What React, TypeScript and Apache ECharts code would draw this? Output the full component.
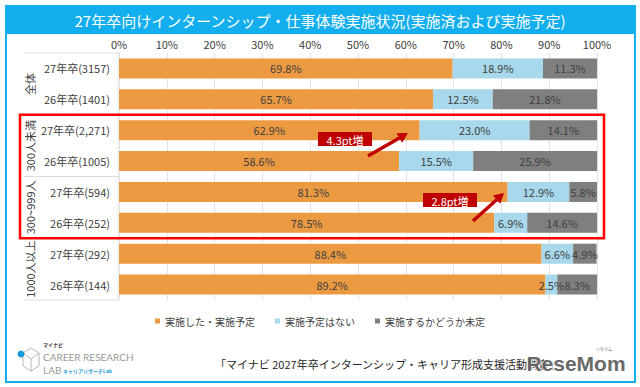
import React, { useEffect, useRef } from "react";
import * as echarts from "echarts";

const categories = [
  "27年卒(3157)",
  "26年卒(1401)",
  "27年卒(2,271)",
  "26年卒(1005)",
  "27年卒(594)",
  "26年卒(252)",
  "27年卒(292)",
  "26年卒(144)",
];
const groups = ["全体", "300人未満", "300~999人", "1000人以上"];
const seriesNames = ["実施した・実施予定", "実施予定はない", "実施するかどうか未定"];
const implemented = [69.8, 65.7, 62.9, 58.6, 81.3, 78.5, 88.4, 89.2];
const notPlanned = [18.9, 12.5, 23.0, 15.5, 12.9, 6.9, 6.6, 2.5];
const undecided = [11.3, 21.8, 14.1, 25.9, 5.8, 14.6, 4.9, 8.3];
const annotations = ["4.3pt増", "2.8pt増"];
const titleText = "27年卒向けインターンシップ・仕事体験実施状況(実施済および実施予定)";
const sourceText = "「マイナビ 2027年卒インターンシップ・キャリア形成支援活動調査」";

const FONT = '"Noto Sans CJK JP", "Noto Sans", sans-serif';
const colors = ["#EC9A42", "#A8D8EB", "#7F7F7F"];
const RED = "#C00000";

function arrow(x1: number, y1: number, x2: number, y2: number) {
  const dx = x2 - x1, dy = y2 - y1;
  const len = Math.sqrt(dx * dx + dy * dy);
  const ux = dx / len, uy = dy / len;
  const nx = -uy, ny = ux;
  const hl = 10, hw = 5.5;
  const bx = x2 - ux * hl, by = y2 - uy * hl;
  return [
    { type: "line", shape: { x1, y1, x2: bx, y2: by }, style: { stroke: RED, lineWidth: 3.5 } },
    {
      type: "polygon",
      shape: { points: [[x2, y2], [bx + nx * hw, by + ny * hw], [bx - nx * hw, by - ny * hw]] },
      style: { fill: RED },
    },
  ];
}

export default function App() {
  const ref = useRef<HTMLDivElement>(null);
  useEffect(() => {
    if (!ref.current) return;
    const chart = echarts.init(ref.current, null, { renderer: "svg" });
    const mk = (name: string, data: number[], i: number) => ({
      name,
      type: "bar",
      stack: "total",
      barWidth: 20,
      data,
      itemStyle: { color: colors[i] },
      label: {
        show: true,
        position: "inside",
        color: "#404040",
        fontSize: 11,
        fontFamily: FONT,
        formatter: (p: any) => p.value.toFixed(1) + "%",
      },
    });
    chart.setOption({
      animation: false,
      backgroundColor: "#ffffff",
      textStyle: { fontFamily: FONT },
      grid: { left: 119, right: 43, top: 53, bottom: 87 },
      legend: {
        data: seriesNames,
        top: 311,
        left: "center",
        icon: "rect",
        itemWidth: 5,
        itemHeight: 5,
        itemGap: 20,
        textStyle: { fontSize: 10, color: "#404040", fontFamily: FONT },
      },
      xAxis: {
        type: "value",
        position: "top",
        min: 0,
        max: 100,
        interval: 10,
        axisLine: { show: false },
        axisTick: { show: false },
        axisLabel: { formatter: "{value}%", color: "#404040", fontSize: 11, margin: 4, fontFamily: FONT },
        splitLine: { lineStyle: { color: "#E3E3E3" } },
      },
      yAxis: {
        type: "category",
        data: categories,
        inverse: true,
        axisLine: { show: false },
        axisTick: { show: false },
        axisLabel: { color: "#404040", fontSize: 11, margin: 9, fontFamily: FONT },
      },
      series: [mk(seriesNames[0], implemented, 0), mk(seriesNames[1], notPlanned, 1), mk(seriesNames[2], undecided, 2)],
    });

    const yc = (i: number) => chart.convertToPixel({ yAxisIndex: 0 } as any, i) as number;
    const band = yc(1) - yc(0);
    const boundary = (i: number) => yc(i) - band / 2;
    const xLeft = chart.convertToPixel({ xAxisIndex: 0 } as any, 0) as number;

    const g: any[] = [];
    // frame and title bar
    g.push({ type: "rect", shape: { x: 6, y: 6, width: 629, height: 376 }, style: { fill: "none", stroke: "#12AEEE", lineWidth: 2 } });
    g.push({ type: "rect", shape: { x: 6, y: 6, width: 629, height: 28 }, style: { fill: "#12AEEE" } });
    g.push({
      type: "text",
      x: 320,
      y: 20,
      style: { text: titleText, fill: "#ffffff", font: `15px ${FONT}`, align: "center", verticalAlign: "middle" },
    });
    // left table lines
    for (let k = 0; k <= groups.length; k++) {
      const y = boundary(k * 2);
      g.push({ type: "line", shape: { x1: 24, y1: y, x2: xLeft, y2: y }, style: { stroke: "#DDDDDD", lineWidth: 1 } });
    }
    g.push({ type: "line", shape: { x1: xLeft - 1, y1: boundary(0), x2: xLeft - 1, y2: boundary(8) }, style: { stroke: "#E6E6E6", lineWidth: 1 } });
    // group labels
    groups.forEach((name, k) => {
      const cy = (yc(2 * k) + yc(2 * k + 1)) / 2;
      g.push({
        type: "text",
        x: 30,
        y: cy,
        rotation: Math.PI / 2,
        style: { text: name, fill: "#404040", font: `11px ${FONT}`, align: "center", verticalAlign: "middle" },
      });
    });
    // red highlight box
    g.push({
      type: "rect",
      shape: { x: 20, y: boundary(2), width: 584, height: boundary(6) - boundary(2) },
      style: { fill: "none", stroke: "#FF0000", lineWidth: 2.5 },
      z: 100,
    });
    // annotations
    const ann = [
      { text: annotations[0], bx: 318, by: 132, arrow: [368, 156, 408, 133] },
      { text: annotations[1], bx: 423, by: 193, arrow: [473, 221, 504, 193] },
    ];
    ann.forEach((a) => {
      g.push({ type: "rect", shape: { x: a.bx, y: a.by, width: 54, height: 14 }, style: { fill: RED }, z: 100 });
      g.push({
        type: "text",
        x: a.bx + 27,
        y: a.by + 7.5,
        z: 101,
        style: { text: a.text, fill: "#ffffff", font: `11px ${FONT}`, align: "center", verticalAlign: "middle" },
      });
      arrow(a.arrow[0], a.arrow[1], a.arrow[2], a.arrow[3]).forEach((e: any) => g.push({ ...e, z: 100 }));
    });
    // logo
    const LATIN = 'Lato, "Open Sans", sans-serif';
    g.push({
      type: "polygon",
      shape: { points: [[31, 348], [39, 353], [39, 366], [31, 371], [23, 366], [23, 353]] },
      style: { fill: "none", stroke: "#B8B8B8", lineWidth: 1 },
    });
    g.push({ type: "polyline", shape: { points: [[23, 353], [31, 359], [39, 353]] }, style: { fill: "none", stroke: "#B8B8B8", lineWidth: 1 } });
    g.push({ type: "line", shape: { x1: 31, y1: 359, x2: 31, y2: 371 }, style: { stroke: "#B8B8B8", lineWidth: 1 } });
    g.push({ type: "circle", shape: { cx: 21, cy: 354, r: 3.5 }, style: { fill: "#1A9BD7" } });
    g.push({ type: "text", x: 43, y: 342, style: { text: "マイナビ", fill: "#333", font: `bold 5px ${FONT}` } });
    g.push({ type: "text", x: 43, y: 357, style: { text: "CAREER RESEARCH", fill: "#9A9A9A", font: `10px ${LATIN}`, verticalAlign: "middle", lineHeight: 11 } });
    g.push({ type: "text", x: 43, y: 370, style: { text: "LAB", fill: "#9A9A9A", font: `10px ${LATIN}`, verticalAlign: "middle", lineHeight: 11 } });
    g.push({ type: "text", x: 63, y: 370, style: { text: "キャリアリサーチLab", fill: "#1A9BD7", font: `bold 5px ${FONT}`, verticalAlign: "middle" } });
    // source
    g.push({
      type: "text",
      x: 215,
      y: 364,
      style: { text: sourceText, fill: "#262626", font: `11px ${FONT}`, verticalAlign: "middle" },
    });
    // watermark
    g.push({
      type: "text",
      x: 576,
      y: 363,
      z: 120,
      style: {
        text: "ReseMom",
        fill: "#555555",
        stroke: "#ffffff",
        lineWidth: 1.5,
        font: `bold 21px "Liberation Sans", Arial, sans-serif`,
        align: "center",
        verticalAlign: "middle",
        opacity: 0.9,
      },
    });
    g.push({ type: "text", x: 604, y: 347, z: 120, style: { text: "リセマム", fill: "#666", font: `4px ${FONT}`, align: "center" } });

    chart.setOption({ graphic: g });
    return () => chart.dispose();
  }, []);
  return <div ref={ref} style={{ position: "fixed", left: 0, top: 0, width: 640, height: 387, background: "#fff" }} />;
}
